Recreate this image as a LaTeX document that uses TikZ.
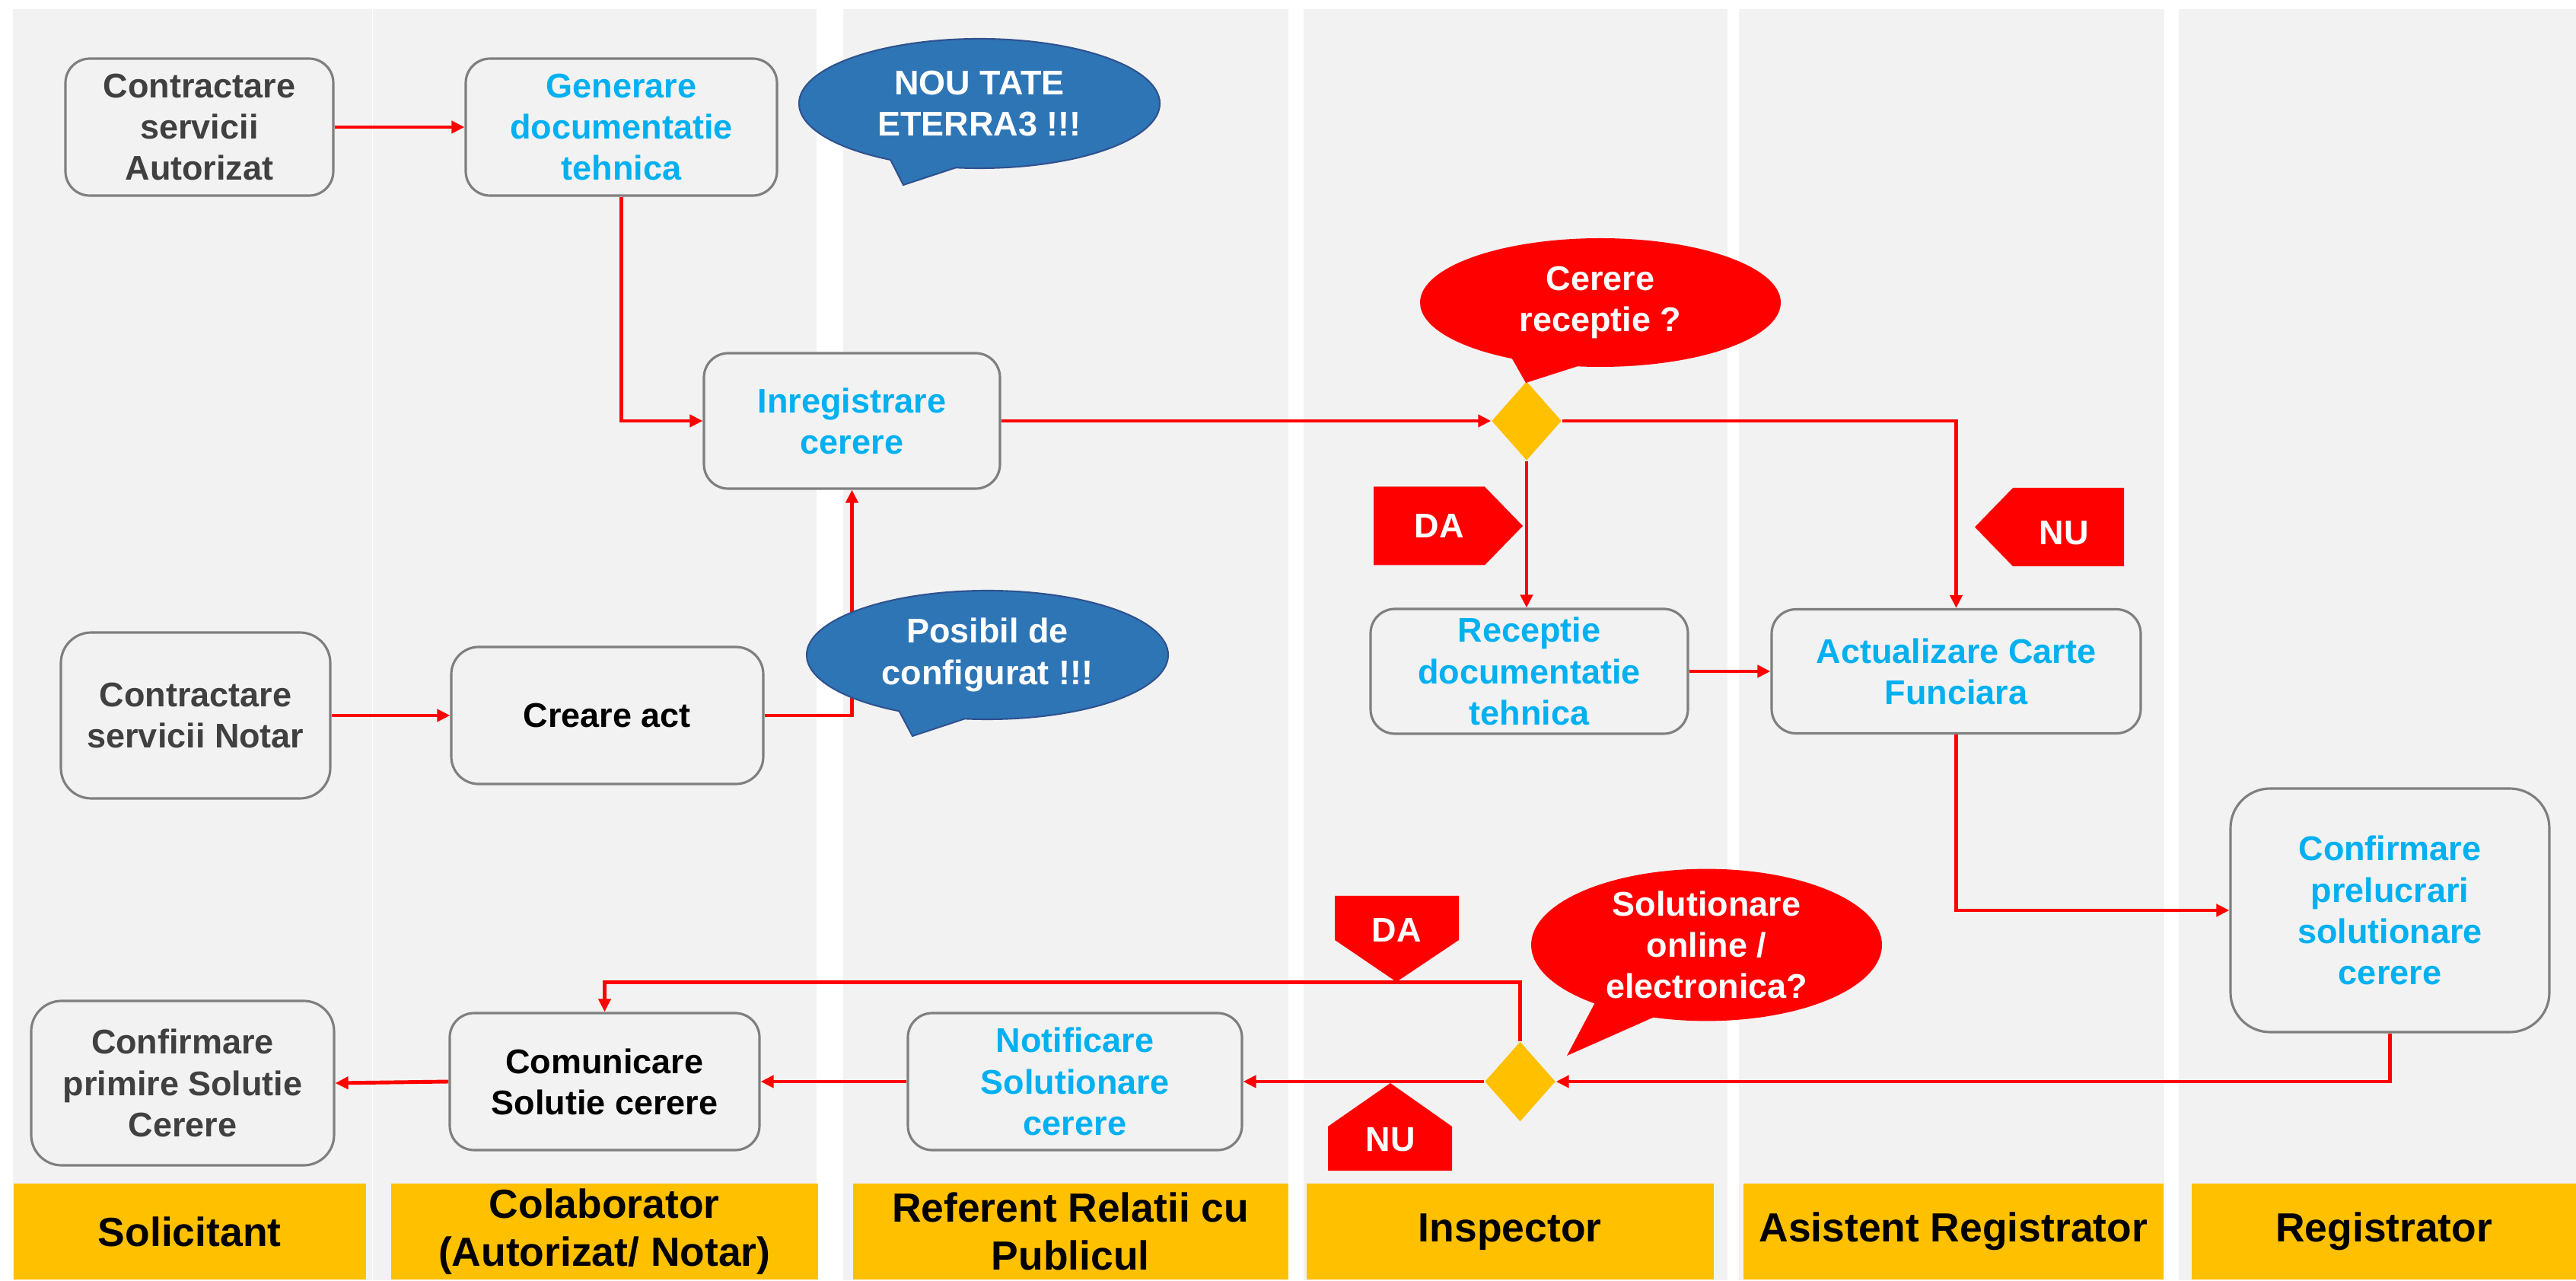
\documentclass[tikz,border=0pt]{standalone}
\usepackage{fontspec}
\setmainfont{Liberation Sans}
\usetikzlibrary{calc,positioning,arrows.meta,shapes.geometric,shapes.callouts,backgrounds}
\pgfdeclarelayer{back}
\pgfsetlayers{background,back,main}

\definecolor{lanegray}{HTML}{F2F2F2}
\definecolor{headyellow}{HTML}{FFC000}
\definecolor{boxborder}{HTML}{7F7F7F}
\definecolor{textcyan}{HTML}{00B0F0}
\definecolor{textdark}{HTML}{404040}
\definecolor{calloutblue}{HTML}{2E75B6}
\definecolor{calloutedge}{HTML}{2F528F}

\begin{document}
\begin{tikzpicture}[
  lane_head/.style={rectangle,inner sep=0pt,minimum height=1.26cm,fill=headyellow,font=\bfseries\fontsize{15.2}{17.9}\selectfont,align=center,anchor=south west},
  step_box/.style={rectangle,rounded corners=.32cm,fill=lanegray,draw=boxborder,line width=.9pt,inner sep=0pt,font=\bfseries\fontsize{12.8}{15.4}\selectfont,align=center},
  decision/.style={diamond,fill=headyellow,draw=none,inner sep=0pt},
  tag/.style={fill=red,draw=none},
  tag_text/.style={text=white,inner sep=0pt,font=\bfseries\fontsize{12.8}{15.4}\selectfont},
  callout_blue/.style={ellipse callout,fill=calloutblue,draw=calloutedge,line width=.6pt,text=white,inner sep=0pt,callout pointer arc=22,font=\bfseries\fontsize{12.8}{15.4}\selectfont,align=center},
  callout_red/.style={ellipse callout,fill=red,draw=none,text=white,inner sep=0pt,callout pointer arc=22,font=\bfseries\fontsize{12.8}{15.4}\selectfont,align=center},
  flow/.style={draw=red,line width=1.4pt,-{Triangle[length=.17cm,width=.16cm]}}
  ]

  \useasboundingbox (0,0) rectangle (33.85,16.82);

%lanes
  \begin{pgfonlayer}{background}
  \fill[white] (0,0) rectangle (33.85,16.82);
  \foreach \xa/\xb in {0.17/4.89,4.90/10.73,11.08/16.93,17.13/22.70,22.85/28.44,28.63/33.85}
    \fill[lanegray] (\xa,0) rectangle (\xb,16.70);
  \end{pgfonlayer}

%lane heads
  \node (head_sol) [lane_head,minimum width=4.63cm] at(0.17,0) {Solicitant};
  \node (head_col) [lane_head,minimum width=5.61cm] at(5.13,0) {Colaborator\\(Autorizat/ Notar)};
  \node (head_ref) [lane_head,minimum width=5.72cm] at(11.20,0) {Referent Relatii cu\\Publicul};
  \node (head_insp) [lane_head,minimum width=5.35cm] at(17.16,0) {Inspector};
  \node (head_asist) [lane_head,minimum width=5.52cm] at(22.90,0) {Asistent Registrator};
  \node (head_reg) [lane_head,minimum width=5.06cm] at(28.79,0) {Registrator};

%top branch
  \node (contr_aut) [step_box,text=textdark,minimum width=3.52cm,minimum height=1.80cm] at(2.62,15.15) {Contractare\\servicii\\Autorizat};
  \node (gen_doc) [step_box,text=textcyan,minimum width=4.09cm,minimum height=1.80cm] at(8.165,15.15) {Generare\\documentatie\\tehnica};
  \node (inreg) [step_box,text=textcyan,minimum width=3.89cm,minimum height=1.78cm] at(11.195,11.29) {Inregistrare\\cerere};

%notar branch
  \node (contr_not) [step_box,rounded corners=.4cm,text=textdark,minimum width=3.54cm,minimum height=2.18cm] at(2.57,7.42) {Contractare\\servicii Notar};
  \node (creare) [step_box,rounded corners=.36cm,minimum width=4.10cm,minimum height=1.80cm] at(7.98,7.42) {Creare act};

%inspector / registrator
  \node (dec_1) [decision,minimum width=.92cm,minimum height=1.04cm] at(20.06,11.29) {};
  \node (recep) [step_box,text=textcyan,minimum width=4.17cm,minimum height=1.64cm] at(20.095,8.00) {Receptie\\documentatie\\tehnica};
  \node (actual) [step_box,text=textcyan,minimum width=4.85cm,minimum height=1.63cm] at(25.705,8.00) {Actualizare Carte\\Funciara};
  \node (conf_prel) [step_box,rounded corners=.52cm,text=textcyan,minimum width=4.19cm,minimum height=3.20cm] at(31.405,4.86) {Confirmare\\prelucrari\\solutionare\\cerere};

%solution back to solicitant
  \node (dec_2) [decision,minimum width=.93cm,minimum height=1.05cm] at(19.975,2.61) {};
  \node (notif) [step_box,text=textcyan,minimum width=4.39cm,minimum height=1.80cm] at(14.125,2.61) {Notificare\\Solutionare\\cerere};
  \node (comun) [step_box,minimum width=4.07cm,minimum height=1.80cm] at(7.945,2.61) {Comunicare\\Solutie cerere};
  \node (conf_prim) [step_box,rounded corners=.4cm,text=textdark,minimum width=3.98cm,minimum height=2.16cm] at(2.40,2.59) {Confirmare\\primire Solutie\\Cerere};

  \begin{pgfonlayer}{back}
  \draw[flow] (contr_aut.east) -- (gen_doc.west);
  \draw[flow] (gen_doc.south) |- (inreg.west);
  \draw[flow] (contr_not.east) -- (creare.west);
  \draw[flow] (creare.east) -| (inreg.south);
  \draw[flow] (inreg.east) -- (dec_1.west);
  \draw[flow] (dec_1.south) -- (dec_1.south |- recep.north);
  \draw[flow] (dec_1.east) -| (actual.north);
  \draw[flow] (recep.east) -- (actual.west);
  \draw[flow] (actual.south) |- (conf_prel.west);
  \draw[flow] (conf_prel.south) |- (dec_2.east);
  \draw[flow] (dec_2.west) -- (notif.east);
  \draw[flow] (dec_2.north) |- ([yshift=.39cm]comun.north) -- (comun.north);
  \draw[flow] (notif.west) -- (comun.east);
  \draw[flow] (comun.west) -- (conf_prim.east);
  \end{pgfonlayer}

%DA / NU tags
  \fill[tag] (18.05,9.395) -- (19.51,9.395) -- (20.01,9.91) -- (19.51,10.425) -- (18.05,10.425) -- cycle;
  \node (da_1) [tag_text] at(18.91,9.91) {DA};
  \fill[tag] (25.95,9.895) -- (26.45,9.38) -- (27.91,9.38) -- (27.91,10.41) -- (26.45,10.41) -- cycle;
  \node (nu_1) [tag_text] at(27.12,9.82) {NU};
  \fill[tag] (17.54,5.05) -- (19.17,5.05) -- (19.17,4.47) -- (18.35,3.92) -- (17.54,4.47) -- cycle;
  \node (da_2) [tag_text] at(18.35,4.60) {DA};
  \fill[tag] (17.45,1.44) -- (19.08,1.44) -- (19.08,2.02) -- (18.27,2.59) -- (17.45,2.02) -- cycle;
  \node (nu_2) [tag_text] at(18.27,1.85) {NU};

%callouts
  \node (nou_bubble) [callout_blue,minimum width=4.74cm,minimum height=1.70cm,callout absolute pointer={(11.87,14.39)}] at(12.87,15.46) {NOU TATE\\ETERRA3 !!!};
  \node (posibil_bubble) [callout_blue,minimum width=4.75cm,minimum height=1.69cm,callout absolute pointer={(11.99,7.15)}] at(12.975,8.215) {Posibil de\\configurat !!!};
  \node (cerere_bubble) [callout_red,minimum width=4.74cm,minimum height=1.69cm,callout absolute pointer={(20.05,11.79)}] at(21.03,12.845) {Cerere\\receptie ?};
  \node (solutie_bubble) [callout_red,minimum width=4.61cm,minimum height=1.91cm,callout absolute pointer={(20.59,2.95)}] at(22.425,4.405) {Solutionare\\online /\\electronica?};

\end{tikzpicture}
\end{document}
